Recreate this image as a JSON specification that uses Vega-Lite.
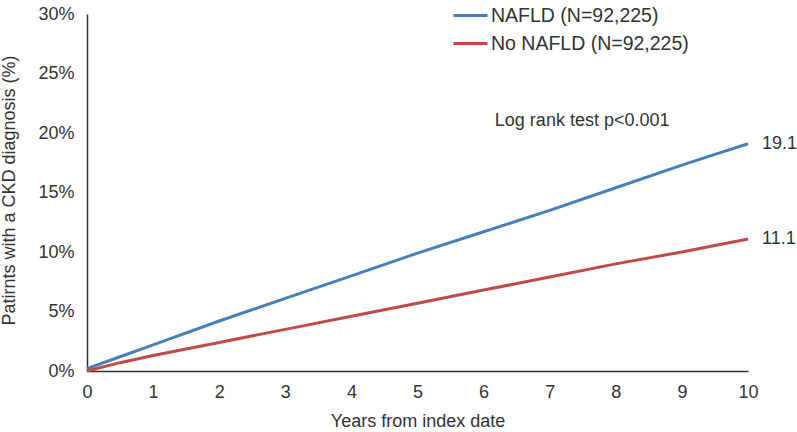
{
  "$schema": "https://vega.github.io/schema/vega-lite/v6.json",
  "width": 661,
  "height": 357,
  "autosize": {"type": "none"},
  "padding": {"left": 87, "top": 14, "right": 49, "bottom": 61},
  "background": "white",
  "config": {
    "view": {"stroke": null},
    "font": "Liberation Sans"
  },
  "layer": [
    {
      "data": {
        "values": [
          {"group": "NAFLD (N=92,225)", "year": 0, "pct": 0.2},
          {"group": "NAFLD (N=92,225)", "year": 0.5, "pct": 1.2},
          {"group": "NAFLD (N=92,225)", "year": 1, "pct": 2.2},
          {"group": "NAFLD (N=92,225)", "year": 2, "pct": 4.2},
          {"group": "NAFLD (N=92,225)", "year": 3, "pct": 6.1},
          {"group": "NAFLD (N=92,225)", "year": 4, "pct": 8.0},
          {"group": "NAFLD (N=92,225)", "year": 5, "pct": 9.9},
          {"group": "NAFLD (N=92,225)", "year": 6, "pct": 11.7},
          {"group": "NAFLD (N=92,225)", "year": 7, "pct": 13.5},
          {"group": "NAFLD (N=92,225)", "year": 8, "pct": 15.4},
          {"group": "NAFLD (N=92,225)", "year": 9, "pct": 17.3},
          {"group": "NAFLD (N=92,225)", "year": 9.5, "pct": 18.2},
          {"group": "NAFLD (N=92,225)", "year": 10, "pct": 19.1},
          {"group": "No NAFLD (N=92,225)", "year": 0, "pct": 0},
          {"group": "No NAFLD (N=92,225)", "year": 0.5, "pct": 0.7},
          {"group": "No NAFLD (N=92,225)", "year": 1, "pct": 1.3},
          {"group": "No NAFLD (N=92,225)", "year": 2, "pct": 2.4},
          {"group": "No NAFLD (N=92,225)", "year": 3, "pct": 3.5},
          {"group": "No NAFLD (N=92,225)", "year": 4, "pct": 4.6},
          {"group": "No NAFLD (N=92,225)", "year": 5, "pct": 5.7},
          {"group": "No NAFLD (N=92,225)", "year": 6, "pct": 6.8},
          {"group": "No NAFLD (N=92,225)", "year": 7, "pct": 7.9},
          {"group": "No NAFLD (N=92,225)", "year": 8, "pct": 9.0},
          {"group": "No NAFLD (N=92,225)", "year": 9, "pct": 10.0},
          {"group": "No NAFLD (N=92,225)", "year": 10, "pct": 11.1}
        ]
      },
      "mark": {"type": "line", "strokeWidth": 3},
      "encoding": {
        "x": {
          "field": "year",
          "type": "quantitative",
          "scale": {"domain": [0, 10], "nice": false},
          "axis": {
            "values": [0, 1, 2, 3, 4, 5, 6, 7, 8, 9, 10],
            "format": "d",
            "ticks": false,
            "grid": false,
            "domainColor": "#333333",
            "domainWidth": 1.5,
            "labelFontSize": 18,
            "labelColor": "#333333",
            "labelPadding": 12,
            "labelFlush": false,
            "title": "Years from index date",
            "titleFontSize": 18,
            "titleFontWeight": "normal",
            "titleColor": "#333333",
            "titleBaseline": "alphabetic",
            "titleY": 55
          }
        },
        "y": {
          "field": "pct",
          "type": "quantitative",
          "scale": {"domain": [0, 30], "nice": false},
          "axis": {
            "values": [0, 5, 10, 15, 20, 25, 30],
            "labelExpr": "datum.value + '%'",
            "ticks": false,
            "grid": false,
            "domainColor": "#333333",
            "domainWidth": 1.5,
            "labelFontSize": 18,
            "labelColor": "#333333",
            "labelPadding": 13,
            "labelFlush": false,
            "title": "Patirnts with a CKD diagnosis (%)",
            "titleFontSize": 18,
            "titleFontWeight": "normal",
            "titleColor": "#333333",
            "titleAngle": -90,
            "titleBaseline": "alphabetic",
            "titleX": -73,
            "titleY": 176
          }
        },
        "color": {
          "field": "group",
          "type": "nominal",
          "scale": {
            "domain": ["NAFLD (N=92,225)", "No NAFLD (N=92,225)"],
            "range": ["#4a7ebb", "#be4b48"]
          },
          "legend": {
            "title": null,
            "orient": "none",
            "legendX": 365,
            "legendY": -17,
            "symbolType": "stroke",
            "symbolSize": 1156,
            "symbolStrokeWidth": 3,
            "labelFontSize": 19.5,
            "labelColor": "#333333",
            "labelOffset": 2,
            "labelLimit": 0,
            "rowPadding": -2
          }
        }
      }
    },
    {
      "data": {"values": [{"year": 6.17, "pct": 21.0, "label": "Log rank test p<0.001"}]},
      "mark": {"type": "text", "align": "left", "baseline": "middle", "fontSize": 18, "color": "#333333"},
      "encoding": {
        "x": {"field": "year", "type": "quantitative"},
        "y": {"field": "pct", "type": "quantitative"},
        "text": {"field": "label"}
      }
    },
    {
      "data": {"values": [{"year": 10, "pct": 19.1, "label": "19.1"}, {"year": 10, "pct": 11.1, "label": "11.1"}]},
      "mark": {"type": "text", "align": "left", "baseline": "middle", "dx": 14, "fontSize": 18, "color": "#333333"},
      "encoding": {
        "x": {"field": "year", "type": "quantitative"},
        "y": {"field": "pct", "type": "quantitative"},
        "text": {"field": "label"}
      }
    }
  ]
}
